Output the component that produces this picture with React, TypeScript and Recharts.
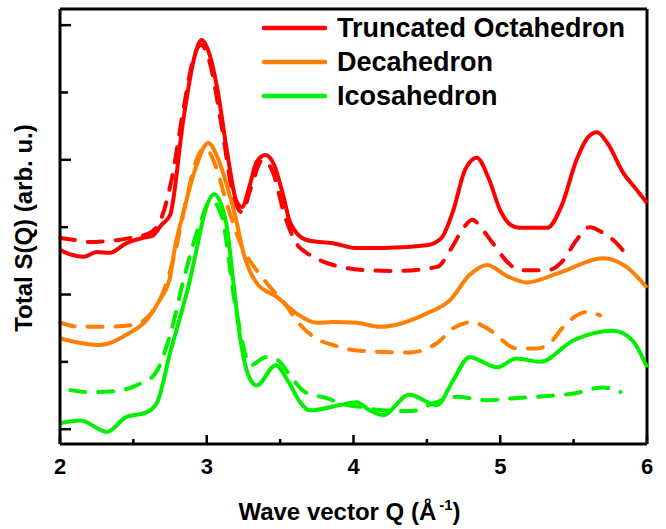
import React from 'react';
import { LineChart, Line, XAxis, YAxis, Legend, ReferenceLine, Label } from 'recharts';

const FONT = '"Liberation Sans", Arial, Helvetica, sans-serif';

// Truncated octahedron (red)
const octQ = [2.0, 2.08, 2.16, 2.25, 2.34, 2.45, 2.56, 2.63, 2.69, 2.75, 2.84, 2.92, 2.965, 3.02, 3.07, 3.14, 3.2, 3.24, 3.29, 3.34, 3.4, 3.46, 3.52, 3.57, 3.68, 3.86, 4.02, 4.2, 4.5, 4.6, 4.68, 4.76, 4.84, 4.92, 5.0, 5.08, 5.13, 5.32, 5.42, 5.52, 5.6, 5.66, 5.73, 5.84, 5.92, 6.0];
const octS = [2.66, 2.59, 2.56, 2.63, 2.62, 2.76, 2.84, 2.87, 3.03, 3.18, 4.59, 5.56, 5.78, 5.56, 5.08, 4.1, 3.4, 3.3, 3.6, 3.97, 4.07, 3.92, 3.48, 3.06, 2.81, 2.76, 2.69, 2.69, 2.73, 2.84, 3.25, 3.85, 4.03, 3.73, 3.25, 3.02, 2.99, 2.99, 3.33, 4.0, 4.34, 4.41, 4.25, 3.8, 3.58, 3.36];
const octDashQ = [2.0, 2.1, 2.2, 2.3, 2.4, 2.5, 2.6, 2.68, 2.76, 2.84, 2.91, 2.96, 3.02, 3.1, 3.18, 3.24, 3.3, 3.38, 3.45, 3.53, 3.62, 3.68, 3.77, 3.96, 4.1, 4.3, 4.57, 4.66, 4.75, 4.81, 4.88, 4.95, 5.05, 5.13, 5.32, 5.43, 5.52, 5.61, 5.69, 5.77, 5.86];
const octDashS = [2.84, 2.81, 2.78, 2.79, 2.81, 2.85, 2.9, 3.08, 3.7, 4.74, 5.51, 5.71, 5.45, 4.52, 3.48, 3.22, 3.58, 4.0, 3.82, 3.18, 2.73, 2.62, 2.51, 2.39, 2.36, 2.35, 2.41, 2.66, 2.99, 3.11, 2.96, 2.76, 2.48, 2.36, 2.36, 2.51, 2.81, 3.0, 2.93, 2.81, 2.59];

// Decahedron (orange)
const decQ = [2.0, 2.14, 2.27, 2.45, 2.59, 2.68, 2.75, 2.78, 2.84, 2.92, 3.01, 3.08, 3.14, 3.2, 3.25, 3.34, 3.48, 3.61, 3.75, 3.86, 4.02, 4.18, 4.5, 4.66, 4.79, 4.91, 5.05, 5.18, 5.41, 5.7, 5.86, 6.0];
const decS = [1.35, 1.28, 1.25, 1.4, 1.62, 1.92, 2.26, 2.66, 3.21, 3.85, 4.25, 4.0, 3.6, 3.11, 2.62, 2.17, 1.96, 1.72, 1.58, 1.59, 1.58, 1.52, 1.72, 1.92, 2.29, 2.44, 2.27, 2.18, 2.33, 2.54, 2.41, 2.1];
const decDashQ = [2.0, 2.14, 2.3, 2.5, 2.59, 2.7, 2.78, 2.86, 2.93, 2.99, 3.05, 3.15, 3.25, 3.34, 3.42, 3.55, 3.61, 3.77, 3.86, 4.02, 4.38, 4.57, 4.68, 4.81, 4.93, 5.11, 5.25, 5.34, 5.43, 5.59, 5.68];
const decDashS = [1.58, 1.52, 1.52, 1.55, 1.65, 2.02, 2.59, 3.4, 4.0, 4.18, 3.97, 3.25, 2.66, 2.36, 2.14, 1.81, 1.62, 1.32, 1.25, 1.17, 1.14, 1.28, 1.5, 1.59, 1.47, 1.2, 1.2, 1.28, 1.52, 1.74, 1.69];

// Icosahedron (green)
const icoQ = [2.0, 2.14, 2.32, 2.45, 2.59, 2.66, 2.75, 2.89, 2.93, 2.99, 3.05, 3.1, 3.14, 3.18, 3.23, 3.29, 3.34, 3.47, 3.55, 3.64, 3.7, 3.91, 4.02, 4.11, 4.2, 4.38, 4.57, 4.68, 4.79, 4.98, 5.11, 5.27, 5.5, 5.77, 5.9, 6.0];
const icoS = [0.09, 0.13, -0.04, 0.18, 0.25, 0.39, 1.13, 2.26, 2.66, 3.25, 3.49, 3.33, 2.96, 2.21, 1.32, 0.77, 0.65, 0.95, 0.73, 0.39, 0.28, 0.36, 0.4, 0.28, 0.21, 0.51, 0.36, 0.73, 1.07, 0.92, 1.05, 1.0, 1.32, 1.46, 1.32, 0.92];
const icoDashQ = [2.07, 2.2, 2.35, 2.55, 2.65, 2.75, 2.85, 2.95, 3.03, 3.1, 3.2, 3.3, 3.4, 3.48, 3.59, 3.67, 3.82, 3.93, 4.05, 4.2, 4.4, 4.55, 4.7, 4.9, 5.1, 5.3, 5.5, 5.7, 5.82];
const icoDashS = [0.58, 0.55, 0.56, 0.68, 0.83, 1.4, 2.29, 3.03, 3.4, 3.18, 1.77, 0.95, 1.07, 1.03, 0.73, 0.55, 0.46, 0.37, 0.33, 0.28, 0.27, 0.39, 0.48, 0.43, 0.46, 0.49, 0.53, 0.62, 0.55];

const xTicks = [2, 2.5, 3, 3.5, 4, 4.5, 5, 5.5, 6];
const yTicks = [0, 1, 2, 3, 4, 5, 6];
const Y_MIN = -0.22;
const Y_MAX = 6.24;

const zip = (qs: number[], vs: number[]) => qs.map((q, i) => ({ q, s: vs[i] }));

const series = [
  { name: 'Truncated Octahedron', color: '#ff0000', solid: zip(octQ, octS), dashed: zip(octDashQ, octDashS) },
  { name: 'Decahedron', color: '#ff8000', solid: zip(decQ, decS), dashed: zip(decDashQ, decDashS) },
  { name: 'Icosahedron', color: '#00f000', solid: zip(icoQ, icoS), dashed: zip(icoDashQ, icoDashS) },
];

function XTick(props: any) {
  const { x, y, payload } = props;
  const major = Number.isInteger(payload.value);
  return (
    <g>
      <line x1={x} x2={x} y1={y} y2={y - (major ? 9 : 5)} stroke="#000" strokeWidth={2.5} />
      {major && (
        <text x={x} y={y + 30} textAnchor="middle" fontFamily={FONT} fontWeight="bold" fontSize={22} fill="#000">
          {payload.value}
        </text>
      )}
    </g>
  );
}

function YTick(props: any) {
  const { x, y, payload } = props;
  const major = payload.value % 2 === 0;
  return <line x1={x} x2={x + (major ? 11 : 8)} y1={y} y2={y} stroke="#000" strokeWidth={2.5} />;
}

function XTitle(props: any) {
  const vb = props.viewBox || { x: 60, y: 444, width: 587, height: 85 };
  return (
    <text x={vb.x + vb.width / 2 - 4} y={vb.y + vb.height - 9} textAnchor="middle" fontFamily={FONT} fontWeight="bold" fontSize={24} fill="#000">
      Wave vector Q (Å
      <tspan dx={3} dy={-10} fontSize={15}>-1</tspan>
      <tspan dy={10}>)</tspan>
    </text>
  );
}

function YTitle() {
  return (
    <text x={32} y={228} transform="rotate(-90, 32, 228)" textAnchor="middle" fontFamily={FONT} fontWeight="bold" fontSize={24} fill="#000">
      Total S(Q) (arb. u.)
    </text>
  );
}

function LegendBox() {
  return (
    <div style={{ fontFamily: FONT, fontWeight: 'bold', fontSize: 27, color: '#000' }}>
      {series.map((s) => (
        <div key={s.name} style={{ display: 'flex', alignItems: 'center', height: 34 }}>
          <svg width={65} height={10} style={{ marginRight: 10 }}>
            <line x1={2} x2={63} y1={5} y2={5} stroke={s.color} strokeWidth={4.5} strokeLinecap="round" />
          </svg>
          <span style={{ lineHeight: '34px', whiteSpace: 'nowrap' }}>{s.name}</span>
        </div>
      ))}
    </div>
  );
}

export default function App() {
  return (
    <div style={{ position: 'absolute', left: 0, top: 0, width: 666, height: 529, background: '#fff' }}>
      <LineChart width={666} height={529} margin={{ top: 9, right: 19, bottom: 0, left: 0 }}>
        <XAxis
          dataKey="q"
          type="number"
          domain={[2, 6]}
          ticks={xTicks}
          interval={0}
          height={85}
          tickSize={0}
          tickMargin={0}
          tickLine={false}
          tick={<XTick />}
          axisLine={{ stroke: '#000', strokeWidth: 3 }}
        >
          <Label content={<XTitle />} />
        </XAxis>
        <YAxis
          type="number"
          domain={[Y_MIN, Y_MAX]}
          ticks={yTicks}
          interval={0}
          width={60}
          tickSize={0}
          tickMargin={0}
          tickLine={false}
          tick={<YTick />}
          axisLine={{ stroke: '#000', strokeWidth: 3 }}
          allowDataOverflow
        >
          <Label content={<YTitle />} />
        </YAxis>
        <ReferenceLine y={Y_MAX} stroke="#000" strokeWidth={3} />
        <ReferenceLine x={6} stroke="#000" strokeWidth={3} />
        {series.map((s) => [
          <Line
            key={s.name + '-dash'}
            data={s.dashed}
            dataKey="s"
            type="monotone"
            stroke={s.color}
            strokeWidth={4}
            strokeDasharray="15 13"
            strokeLinecap="round"
            dot={false}
            activeDot={false}
            legendType="none"
            isAnimationActive={false}
          />,
          <Line
            key={s.name + '-solid'}
            data={s.solid}
            dataKey="s"
            name={s.name}
            type="monotone"
            stroke={s.color}
            strokeWidth={4}
            dot={false}
            activeDot={false}
            isAnimationActive={false}
          />,
        ])}
        <Legend
          layout="vertical"
          align="center"
          verticalAlign="middle"
          content={<LegendBox />}
          wrapperStyle={{ position: 'absolute', left: 262, top: 11, width: 'auto' }}
        />
      </LineChart>
    </div>
  );
}
